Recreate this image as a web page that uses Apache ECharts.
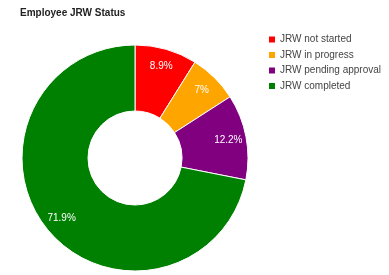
<!DOCTYPE html>
<html><head><meta charset="utf-8">
<script src="https://cdn.jsdelivr.net/npm/echarts@6/dist/echarts.min.js"></script>
<style>html,body{margin:0;padding:0;background:#fff}#c{width:389px;height:275px}</style>
</head><body><div id="c"></div>
<script>
const categories = ['JRW not started', 'JRW in progress', 'JRW pending approval', 'JRW completed'];
const values = [8.9, 7, 12.2, 71.9];
const colors = ['#ff0000', '#ffa500', '#800080', '#008000'];
const titleText = 'Employee JRW Status';

const total = values.reduce((a, b) => a + b, 0);
const chart = echarts.init(document.getElementById('c'));
chart.setOption({
  animation: false,
  title: { text: titleText, left: 15, top: 3, textStyle: { fontFamily: 'Arial, Liberation Sans', fontSize: 10, fontWeight: 'bold', color: '#222' } },
  legend: {
    orient: 'vertical', left: 262, top: 29.5, itemWidth: 8, itemHeight: 8, itemGap: 5.5, icon: 'rect',
    textStyle: { fontFamily: 'Arial, Liberation Sans', fontSize: 10, color: '#444', padding: [0, 0, 0, -1] },
    data: categories
  },
  series: [{
    type: 'pie', center: [135, 158], radius: [47, 113], startAngle: 90, clockwise: true,
    color: colors,
    itemStyle: { borderColor: '#fff', borderWidth: 1 },
    label: { show: true, position: 'inside', color: '#fff', fontFamily: 'Arial, Liberation Sans', fontSize: 10,
      formatter: p => p.value + '%' },
    labelLine: { show: false },
    labelLayout: function (p) {
      let cum = 0;
      for (let i = 0; i < p.dataIndex; i++) cum += values[i];
      const mid = (90 - 360 * (cum + values[p.dataIndex] / 2) / total) * Math.PI / 180;
      const extra = 12;
      return { dx: extra * Math.cos(mid), dy: -extra * Math.sin(mid) };
    },
    data: categories.map((n, i) => ({ name: n, value: values[i] }))
  }]
});
</script></body></html>
